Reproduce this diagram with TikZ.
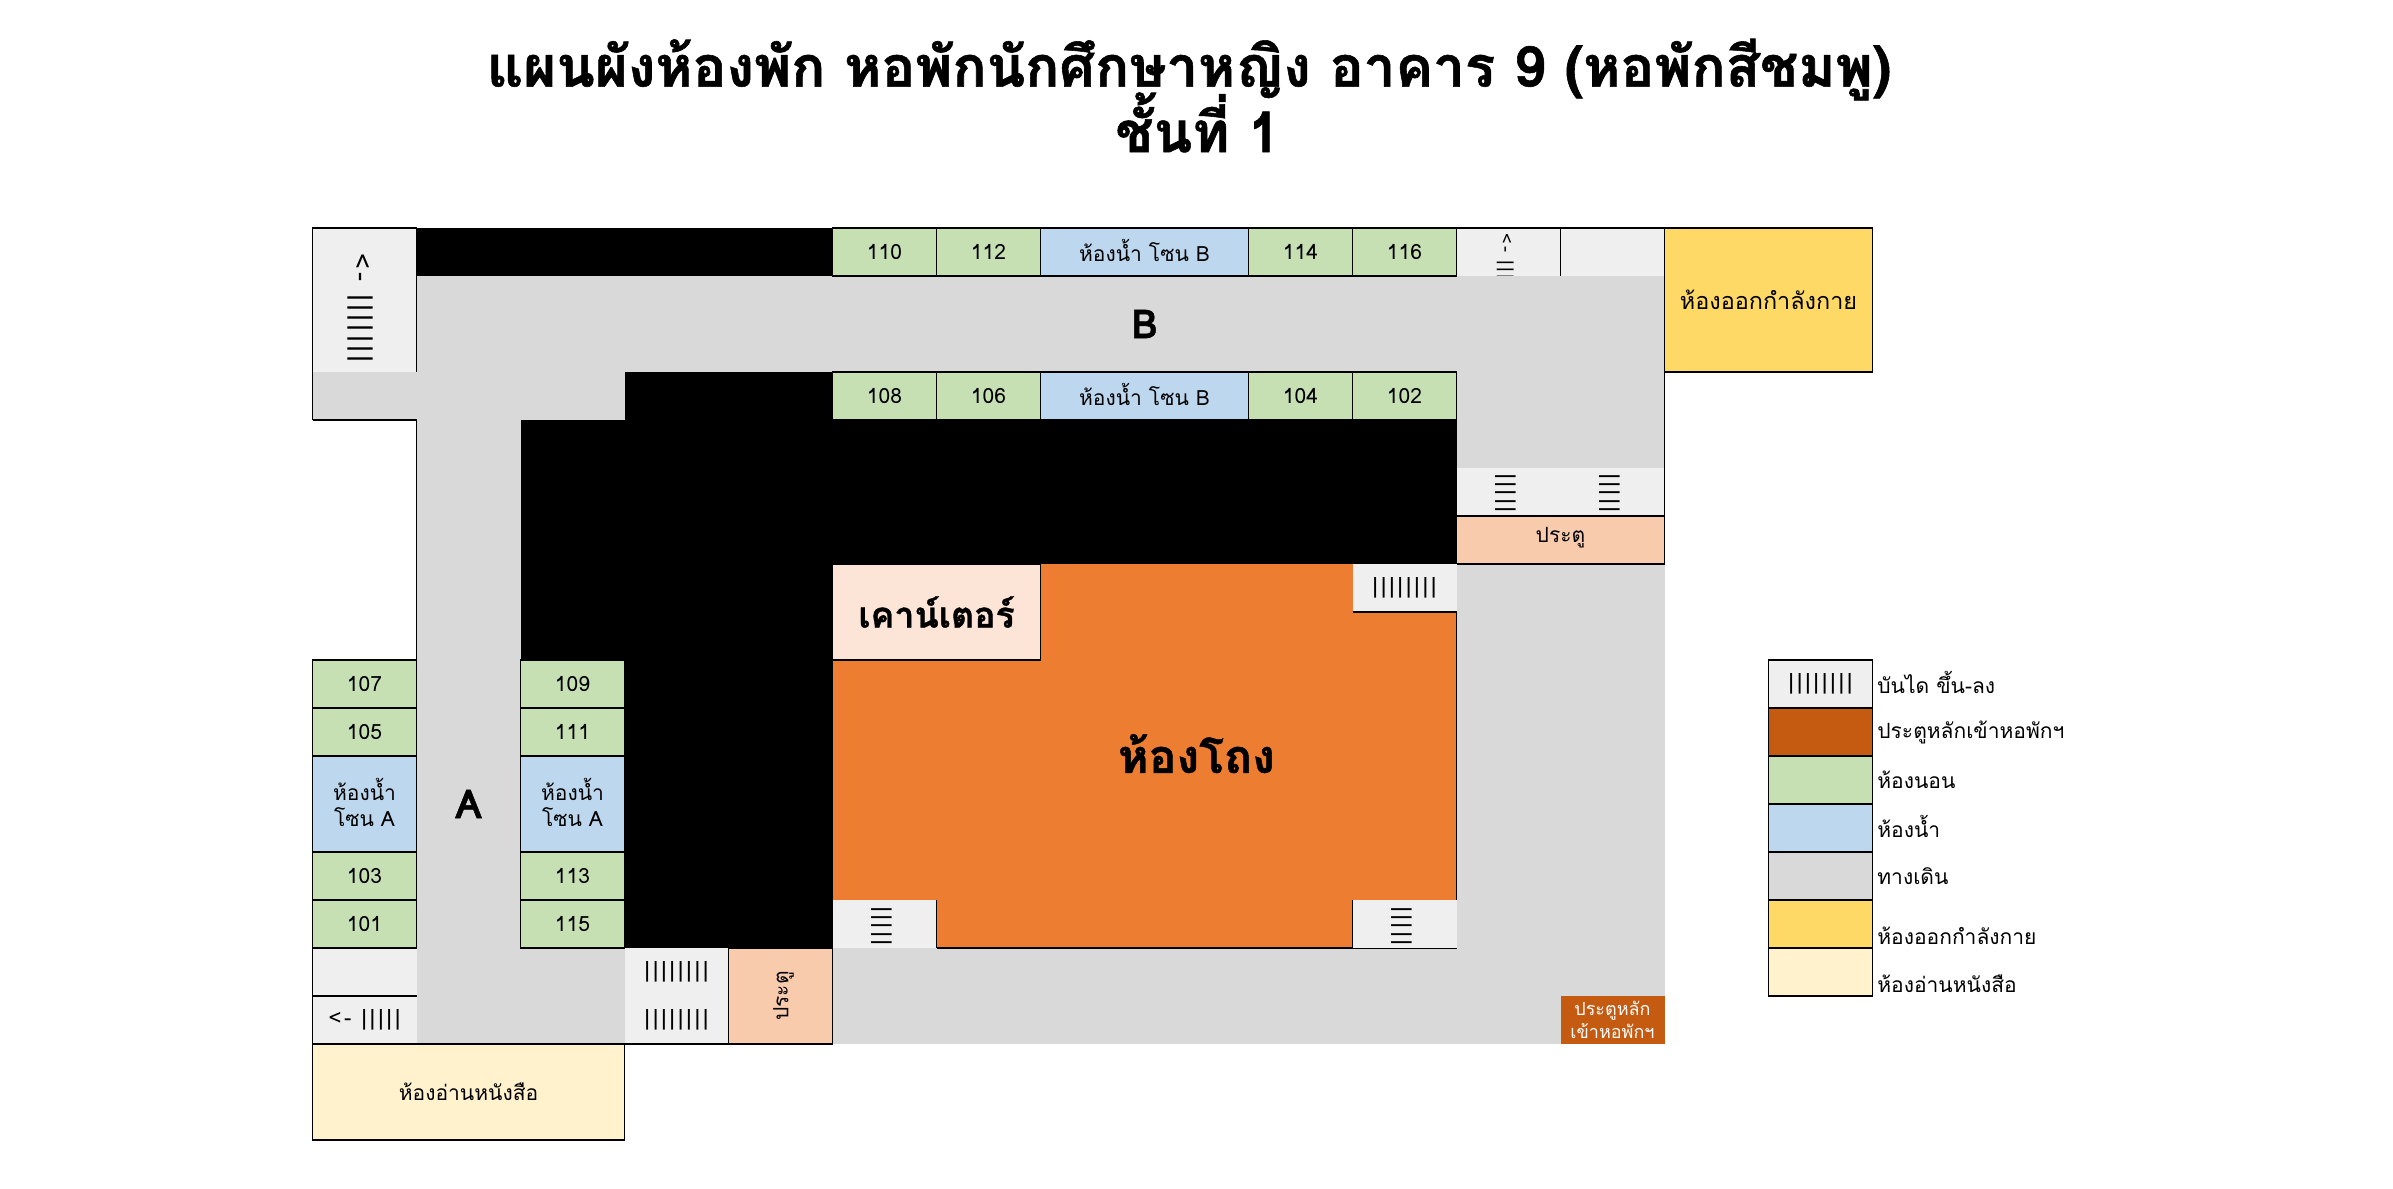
\documentclass[tikz,border=0pt]{standalone}
\usepackage{fontspec}
\setmainfont[Script=Thai,BoldFeatures={FakeBold=1}]{Loma}
\newfontfamily\barfamily[Script=Thai,LetterSpace=12]{Loma}
\definecolor{bedroom}{HTML}{C6E0B4}
\definecolor{bathroom}{HTML}{BDD7EE}
\definecolor{walkway}{HTML}{D9D9D9}
\definecolor{stairfill}{HTML}{EFEFEF}
\definecolor{gymroom}{HTML}{FFD966}
\definecolor{readroom}{HTML}{FFF2CC}
\definecolor{hallroom}{HTML}{ED7D31}
\definecolor{counterroom}{HTML}{FCE4D6}
\definecolor{doorroom}{HTML}{F8CBAD}
\definecolor{maindoor}{HTML}{C55A11}
\newcommand{\cellfont}{\fontsize{10.5}{13}\selectfont}
\newcommand{\bars}{||||||||}
\tikzset{
  plan/.style={line width=0.7pt},
  lbl/.style={inner sep=0pt,font=\cellfont,align=center},
  thailbl/.style={lbl,yshift=1pt},
  stairlbl/.style={inner sep=0pt,font=\barfamily\fontsize{11}{13}\selectfont},
  keylbl/.style={inner sep=0pt,anchor=west,font=\cellfont},
  titlelbl/.style={inner sep=0pt,font=\fontsize{28.2}{31}\selectfont\bfseries}
}
\begin{document}
\begin{tikzpicture}[x=52pt,y=-24pt,plan]
\useasboundingbox (-3.005,-4.75) rectangle (20.005,20.02);
% title
\node[titlelbl] (title) at (8.43,-3.3) {แผนผังห้องพัก หอพักนักศึกษาหญิง อาคาร 9 (หอพักสีชมพู)};
\node[titlelbl] (floor) at (8.51,-2.2) {ชั้นที่ 1};
% walkways
\fill[walkway] (1,1) rectangle (13,3);
\fill[walkway] (0,3) rectangle (3,4);
\fill[walkway] (1,4) rectangle (2,15);
\fill[walkway] (1,15) rectangle (3,17);
\fill[walkway] (11,3) rectangle (13,15);
\fill[walkway] (5,15) rectangle (13,17);
% solid blocks
\fill[black] (1,0) rectangle (5,1);
\fill[black] (3,3) rectangle (5,4);
\fill[black] (2,4) rectangle (11,7);
\fill[black] (2,7) rectangle (5,9);
\fill[black] (3,9) rectangle (5,15);
% hall
\fill[hallroom] (5,7) rectangle (11,15);
\draw (11,8) -- (11,15) -- (6,15);
\draw[fill=counterroom] (5,7) rectangle (7,9);
\node[inner sep=0pt,font=\fontsize{17.8}{20}\selectfont\bfseries] (counter) at (6.0,8) {เคาน์เตอร์};
\node[inner sep=0pt,font=\fontsize{23.2}{26}\selectfont\bfseries] (hall) at (8.5,10.95) {ห้องโถง};
\node[inner sep=0pt,font=\fontsize{20}{20}\selectfont\bfseries] (zoneB) at (8,2) {B};
\node[inner sep=0pt,font=\fontsize{20}{20}\selectfont\bfseries] (zoneA) at (1.5,12) {A};
% bedrooms
\foreach \x/\y/\t in {5/0/110,6/0/112,9/0/114,10/0/116,5/3/108,6/3/106,9/3/104,10/3/102,
  0/9/107,0/10/105,0/13/103,0/14/101,2/9/109,2/10/111,2/13/113,2/14/115}{
  \draw[fill=bedroom] (\x,\y) rectangle (\x+1,\y+1);
  \node[lbl] (room\t) at (\x+0.5,\y+0.5) {\t};
}
% bathrooms
\draw[fill=bathroom] (7,0) rectangle (9,1);
\node[thailbl] (bathB1) at (8,0.5) {ห้องน้ำ โซน B};
\draw[fill=bathroom] (7,3) rectangle (9,4);
\node[thailbl] (bathB2) at (8,3.5) {ห้องน้ำ โซน B};
\draw[fill=bathroom] (0,11) rectangle (1,13);
\node[thailbl] (bathA1) at (0.5,12) {ห้องน้ำ\\โซน A};
\draw[fill=bathroom] (2,11) rectangle (3,13);
\node[thailbl] (bathA2) at (2.5,12) {ห้องน้ำ\\โซน A};
% stairs, top row
\fill[stairfill] (0,0) rectangle (1,3);
\draw (0,4) -- (0,0) -- (1,0) -- (1,3);
\draw (0,4) -- (1,4) -- (1,9);
\node[stairlbl,rotate=-90,font=\barfamily\fontsize{13.5}{16}\selectfont] (stairNW) at (0.46,1.67) {<- |||||||};
\fill[stairfill] (11,0) rectangle (13,1);
\draw (11,1) -- (11,0) -- (13,0);
\draw (12,0) -- (12,1);
\begin{scope}
\clip (11,0) rectangle (12,1);
\node[stairlbl,rotate=-90,anchor=west,font=\barfamily\fontsize{9}{10}\selectfont] (stairNE) at (11.47,0.1) {<- |||||||};
\end{scope}
% stairs by the side door
\fill[stairfill] (11,5) rectangle (13,6);
\begin{scope}
\clip (11,5) rectangle (13,6);
\node[stairlbl,rotate=90,anchor=east] (stairE1) at (11.47,5.1) {||||||};
\node[stairlbl,rotate=90,anchor=east] (stairE2) at (12.47,5.1) {||||||};
\end{scope}
\draw (13,3) -- (13,7);
\draw[fill=doorroom] (11,6) rectangle (13,7);
\node[thailbl] (doorE) at (12,6.5) {ประตู};
% stairs in the hall
\fill[stairfill] (10,7) rectangle (11,8);
\draw (10,8) -- (11,8);
\node[stairlbl] (stairH1) at (10.5,7.5) {\bars};
\fill[stairfill] (5,14) rectangle (6,15);
\draw (6,14) -- (6,15);
\fill[stairfill] (10,14) rectangle (11,15);
\draw (10,14) -- (10,15);
\begin{scope}
\clip (5,14) rectangle (6,15);
\node[stairlbl,rotate=90,anchor=east] (stairH2) at (5.47,14.12) {||||||};
\end{scope}
\begin{scope}
\clip (10,14) rectangle (11,15);
\node[stairlbl,rotate=90,anchor=east] (stairH3) at (10.47,14.12) {||||||};
\end{scope}
% stairs, bottom
\fill[stairfill] (0,15) rectangle (1,17);
\draw (1,15) -- (0,15) -- (0,17);
\draw (0,16) -- (1,16);
\node[stairlbl] (stairS1) at (0.5,16.5) {<- |||||};
\fill[stairfill] (3,15) rectangle (4,17);
\draw (3,17) -- (4,17);
\node[stairlbl] (stairS2) at (3.5,15.5) {\bars};
\node[stairlbl] (stairS3) at (3.5,16.5) {\bars};
\draw[fill=doorroom] (4,15) rectangle (5,17);
\node[lbl,rotate=90] (doorS) at (4.53,16) {ประตู};
% other rooms
\draw[fill=gymroom] (13,0) rectangle (15,3);
\node[lbl,font=\fontsize{11.7}{14}\selectfont] (gym) at (14,1.5) {ห้องออกกำลังกาย};
\draw[fill=readroom] (0,17) rectangle (3,19);
\node[lbl] (reading) at (1.5,18) {ห้องอ่านหนังสือ};
\fill[maindoor] (12,16) rectangle (13,17);
\node[lbl,text=white,font=\fontsize{9}{11.5}\selectfont] (mainDoor) at (12.5,16.5) {ประตูหลัก\\เข้าหอพักฯ};
% legend
\draw[fill=stairfill] (14,9) rectangle (15,10);
\node[stairlbl] (keyStair) at (14.5,9.5) {\bars};
\foreach \y/\c/\t/\s in {9/stairfill/บันได ขึ้น-ลง/-1,10/maindoor/ประตูหลักเข้าหอพักฯ/0,
  11/bedroom/ห้องนอน/0,12/bathroom/ห้องน้ำ/-1,13/walkway/ทางเดิน/0,
  14/gymroom/ห้องออกกำลังกาย/6,15/readroom/ห้องอ่านหนังสือ/6}{
  \ifnum\y>9 \draw[fill=\c] (14,\y) rectangle (15,\y+1); \fi
  \node[keylbl,yshift=-\s pt] (key\y) at (15.04,\y+0.5) {\t};
}
\end{tikzpicture}
\end{document}
